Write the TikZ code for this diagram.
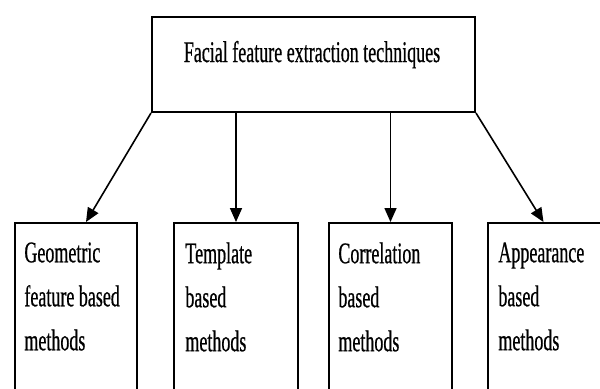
\documentclass[tikz,border=0pt]{standalone}
\usepackage{fontspec}
\setmainfont{Liberation Serif}[FakeStretch=0.6,FakeBold=0.6]
\usetikzlibrary{arrows.meta,positioning,calc}

\begin{document}
\begin{tikzpicture}[x=0.5pt,y=-0.5pt,
    font=\fontsize{15pt}{22pt}\selectfont,
    box/.style={draw,line width=1pt,inner sep=0pt,anchor=north west},
    lbl/.style={anchor=north west,inner sep=0pt,align=left},
    arr/.style={-{Triangle[length=7pt,width=6pt]},line width=0.8pt}]
  \clip (0,0) rectangle (600,388);

  % root of the tree
  \node[box,minimum width=161.5pt,minimum height=47.5pt] (top) at (151,16) {};
  \node[anchor=base,inner sep=0pt] (toptxt) at (312,62) {Facial feature extraction techniques};

  % the four families (boxes run off the bottom)
  \node[box,minimum width=61pt,minimum height=100pt] (geo) at (14,222) {};
  \node[box,minimum width=62pt,minimum height=100pt] (tpl) at (173,222) {};
  \node[box,minimum width=61.5pt,minimum height=100pt] (cor) at (328,222) {};
  \node[box,minimum width=61.5pt,minimum height=100pt] (app) at (487,222) {};

  \node[lbl] (geotxt) at (24,242) {Geometric\\feature based\\methods};
  \node[lbl] (tpltxt) at (185,242) {Template\\based\\methods};
  \node[lbl] (cortxt) at (338,242) {Correlation\\based\\methods};
  \node[lbl] (apptxt) at (498,242) {Appearance\\based\\methods};

  \draw[arr] (top.south west) -- ([xshift=5pt]geo.north);
  \draw[arr] (top.south -| tpl.north) -- (tpl.north);
  \draw[arr] (top.south -| cor.north) -- (cor.north);
  \draw[arr] (top.south east) -- ([xshift=-3pt]app.north);
\end{tikzpicture}
\end{document}
